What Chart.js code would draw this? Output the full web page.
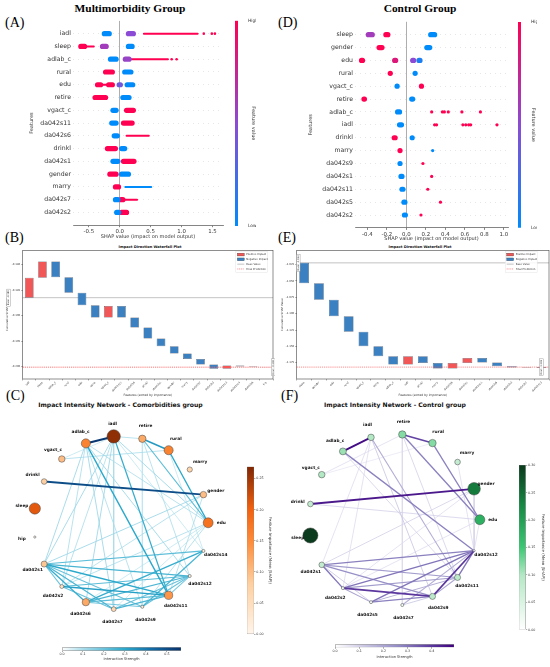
<!DOCTYPE html>
<html lang="en">
<head>
<meta charset="UTF-8">
<title>SHAP summary, waterfall and interaction networks</title>
<script src="https://cdn.jsdelivr.net/npm/chart.js"></script>
<style>
  body { margin: 0; background: #fff; }
  #fig { position: relative; width: 550px; height: 667px; overflow: hidden; font-family: 'DejaVu Sans', sans-serif; }
  canvas { position: absolute; }
  .lbl { position: absolute; font-family: 'Liberation Serif', serif; font-size: 14px; line-height: 1; color: #000; }
  .grp { position: absolute; font-family: 'Liberation Serif', serif; font-weight: bold; font-size: 11.4px; line-height: 1; text-align: center; white-space: nowrap; }
  .ttl { position: absolute; font-weight: bold; text-align: center; white-space: nowrap; line-height: 1; color: #111; }
</style>
</head>
<body>
<div id="fig">
  <div class="grp" style="left:30px;top:3px;width:200px">Multimorbidity Group</div>
  <div class="grp" style="left:320px;top:3px;width:200px">Control Group</div>
  <div class="lbl" style="left:5px;top:16px">(A)</div>
  <div class="lbl" style="left:278px;top:16px">(D)</div>
  <div class="lbl" style="left:5px;top:231px">(B)</div>
  <div class="lbl" style="left:278px;top:231px">(E)</div>
  <div class="lbl" style="left:6px;top:389px">(C)</div>
  <div class="lbl" style="left:281px;top:389px">(F)</div>
  <div class="ttl" style="left:50px;top:245.5px;width:200px;font-size:3.6px">Impact Direction Waterfall Plot</div>
  <div class="ttl" style="left:320px;top:245.5px;width:200px;font-size:3.6px">Impact Direction Waterfall Plot</div>
  <div class="ttl" style="left:0px;top:402px;width:241px;font-size:6.1px">Impact Intensity Network - Comorbidities group</div>
  <div class="ttl" style="left:275px;top:402px;width:240px;font-size:6.1px">Impact Intensity Network - Control group</div>
</div>

<script>
// ---- (A) SHAP summary, multimorbidity group ----
const featA = ['iadl', 'sleep', 'adlab_c', 'rural', 'edu', 'retire', 'vgact_c', 'da042s11',
  'da042s6', 'drinkl', 'da042s1', 'gender', 'marry', 'da042s7', 'da042s2'];
// [feature, shap from, shap to, feature value 0..1]
const coreA = [
  ['iadl', -0.25, -0.17, 0], ['iadl', 0.14, 0.22, 0.5],
  ['sleep', -0.63, -0.57, 1], ['sleep', -0.28, -0.22, 0.6], ['sleep', 0.14, 0.20, 0],
  ['adlab_c', -0.15, -0.06, 0], ['adlab_c', 0.09, 0.15, 0.55],
  ['rural', -0.23, -0.12, 1], ['rural', 0.08, 0.18, 0],
  ['edu', -0.36, -0.31, 1], ['edu', -0.18, -0.12, 1], ['edu', -0.01, 0.01, 0.4], ['edu', 0.12, 0.21, 0],
  ['retire', -0.40, -0.23, 1], ['retire', 0.05, 0.15, 0],
  ['vgact_c', -0.11, -0.06, 0], ['vgact_c', 0.11, 0.22, 1],
  ['da042s11', -0.13, -0.06, 0], ['da042s11', 0.06, 0.20, 1],
  ['da042s6', -0.09, -0.04, 0],
  ['drinkl', -0.20, -0.07, 1], ['drinkl', 0.03, 0.08, 0],
  ['da042s1', -0.11, -0.03, 0], ['da042s1', 0.06, 0.23, 1],
  ['gender', -0.16, -0.06, 1], ['gender', 0.03, 0.14, 0],
  ['marry', -0.07, -0.02, 1],
  ['da042s7', -0.07, -0.03, 0], ['da042s7', 0.02, 0.05, 1],
  ['da042s2', -0.05, -0.02, 0], ['da042s2', 0.03, 0.11, 1]
];
const tailA = [
  ['iadl', 0.39, 1.26, 1], ['sleep', -0.56, -0.42, 1], ['adlab_c', 0.18, 0.78, 1],
  ['edu', -0.30, -0.19, 1], ['da042s6', 0.11, 0.47, 1], ['marry', 0.09, 0.51, 0],
  ['da042s7', 0.05, 0.28, 1]
];
const dotsA = [['iadl', 1.36, 1], ['iadl', 1.49, 1], ['iadl', 1.54, 1], ['adlab_c', 0.84, 1], ['adlab_c', 0.92, 1]];
const ticksA = [-0.5, 0, 0.5, 1, 1.5];

// ---- (D) SHAP summary, control group ----
const featD = ['sleep', 'gender', 'edu', 'rural', 'vgact_c', 'retire', 'adlab_c', 'iadl', 'drinkl',
  'marry', 'da042s9', 'da042s1', 'da042s11', 'da042s5', 'da042s2'];
const coreD = [
  ['sleep', -0.39, -0.35, 0.6], ['sleep', -0.21, -0.19, 1], ['sleep', 0.25, 0.29, 0],
  ['gender', -0.28, -0.25, 1], ['gender', 0.21, 0.24, 0],
  ['edu', -0.46, -0.45, 1], ['edu', -0.12, -0.11, 0.85], ['edu', 0.065, 0.075, 0.5], ['edu', 0.13, 0.14, 0.1],
  ['rural', -0.165, -0.16, 1], ['rural', 0.09, 0.095, 0],
  ['vgact_c', -0.095, -0.09, 0], ['vgact_c', 0.155, 0.16, 1],
  ['retire', -0.435, -0.43, 1], ['retire', 0.055, 0.065, 0],
  ['adlab_c', -0.09, -0.07, 0],
  ['iadl', -0.07, -0.05, 0],
  ['drinkl', -0.125, -0.115, 1], ['drinkl', 0.06, 0.065, 0],
  ['marry', -0.065, -0.055, 1],
  ['da042s9', -0.065, -0.055, 0],
  ['da042s1', -0.055, -0.045, 0],
  ['da042s11', -0.045, -0.035, 0],
  ['da042s5', -0.025, -0.015, 0],
  ['da042s2', -0.02, -0.01, 0]
];
const dotsD = [
  ['adlab_c', 0.26, 1], ['adlab_c', 0.37, 1], ['adlab_c', 0.39, 1], ['adlab_c', 0.43, 1], ['adlab_c', 0.57, 1], ['adlab_c', 0.76, 1],
  ['iadl', 0.29, 1], ['iadl', 0.31, 1], ['iadl', 0.58, 1], ['iadl', 0.61, 1], ['iadl', 0.64, 1], ['iadl', 0.66, 1], ['iadl', 0.93, 1],
  ['marry', 0.27, 0], ['da042s9', 0.17, 1], ['da042s1', 0.26, 1], ['da042s11', 0.22, 1],
  ['da042s5', 0.35, 1], ['da042s2', 0.15, 1]
];
const ticksD = [-0.4, -0.2, 0, 0.2, 0.4, 0.6, 0.8, 1.0];
const shapCbLabels = ['Low', 'High'];

// ---- (B) waterfall, multimorbidity group ----
const featB = ['iadl', 'sleep', 'adlab_c', 'rural', 'edu', 'retire', 'vgact_c', 'da042s11', 'da042s6', 'drinkl',
  'da042s1', 'gender', 'marry', 'da042s7', 'da042s2', 'da042s12', 'da042s14', 'da042s9', 'hip'];
const contribB = [0.00389, 0.00318, -0.00305, -0.00305, -0.00247, -0.00240, 0.00227, -0.00227, -0.00195, -0.00214,
  -0.00149, -0.00143, -0.00111, -0.00104, -0.00084, 0.00065, -0.00020, -0.00012, -0.00004];
const baseB = -0.18649;
const ticksB = [-0.180, -0.185, -0.190, -0.195, -0.200];

// ---- (E) waterfall, control group ----
const featE = ['sleep', 'gender', 'edu', 'rural', 'vgact_c', 'retire', 'adlab_c', 'iadl', 'drinkl', 'marry',
  'da042s9', 'da042s1', 'da042s11', 'da042s5', 'da042s2', 'da042s7', 'da042s12'];
const contribE = [-0.03094, -0.02536, -0.02536, -0.02333, -0.02232, -0.01521, -0.01269, 0.01269, -0.01015, -0.00862,
  0.00862, 0.00761, -0.00711, -0.00558, -0.00203, -0.00051, 0.00100];
const baseE = -1.0225;
const ticksE = [-1.025, -1.050, -1.075, -1.100, -1.125, -1.150, -1.175];

// ---- (C) network, comorbidities group (circular order) ----
const nodesC = ['edu', 'gender', 'marry', 'rural', 'retire', 'iadl', 'adlab_c', 'vgact_c', 'drinkl', 'sleep',
  'hip', 'da042s1', 'da042s2', 'da042s6', 'da042s7', 'da042s9', 'da042s11', 'da042s12', 'da042s14'];
const impC = [0.18, 0.10, 0.07, 0.16, 0.12, 0.26, 0.16, 0.10, 0.08, 0.21,
  0.0, 0.09, 0.04, 0.12, 0.06, 0.02, 0.14, 0.02, 0.02];
const edgesC = [
  ['iadl', 'adlab_c', 0.55], ['drinkl', 'gender', 0.50], ['retire', 'rural', 0.33], ['rural', 'edu', 0.30],
  ['retire', 'edu', 0.22], ['adlab_c', 'da042s11', 0.30], ['iadl', 'da042s11', 0.28],
  ['da042s1', 'da042s11', 0.30], ['da042s1', 'da042s12', 0.25], ['da042s1', 'da042s14', 0.22],
  ['da042s1', 'da042s6', 0.28], ['da042s1', 'da042s7', 0.25], ['da042s1', 'da042s9', 0.20], ['da042s1', 'da042s2', 0.20],
  ['da042s2', 'da042s11', 0.32], ['da042s2', 'da042s12', 0.22], ['da042s2', 'da042s7', 0.20],
  ['da042s6', 'da042s14', 0.28], ['da042s6', 'da042s12', 0.25], ['da042s6', 'da042s11', 0.22], ['da042s6', 'da042s9', 0.18],
  ['da042s7', 'da042s11', 0.25], ['da042s7', 'da042s12', 0.20], ['da042s9', 'da042s14', 0.25], ['da042s9', 'da042s12', 0.20],
  ['da042s11', 'da042s12', 0.18],
  ['vgact_c', 'rural', 0.10], ['vgact_c', 'iadl', 0.08], ['iadl', 'retire', 0.10], ['iadl', 'edu', 0.12],
  ['iadl', 'da042s1', 0.12], ['iadl', 'da042s2', 0.10], ['iadl', 'da042s6', 0.12], ['iadl', 'da042s7', 0.10],
  ['iadl', 'da042s14', 0.08], ['adlab_c', 'da042s1', 0.12], ['adlab_c', 'da042s2', 0.10], ['adlab_c', 'da042s7', 0.12],
  ['adlab_c', 'da042s9', 0.10], ['adlab_c', 'da042s12', 0.12], ['adlab_c', 'edu', 0.10], ['retire', 'da042s12', 0.10],
  ['retire', 'da042s9', 0.08], ['rural', 'da042s14', 0.08], ['gender', 'da042s1', 0.12], ['gender', 'da042s2', 0.10],
  ['gender', 'da042s11', 0.10], ['edu', 'da042s2', 0.10], ['edu', 'da042s6', 0.08], ['edu', 'da042s9', 0.10],
  ['edu', 'da042s7', 0.08]
];

// ---- (F) network, control group (circular order) ----
const nodesF = ['edu', 'gender', 'marry', 'rural', 'retire', 'iadl', 'adlab_c', 'vgact_c', 'drinkl', 'sleep',
  'da042s1', 'da042s2', 'da042s5', 'da042s7', 'da042s9', 'da042s11', 'da042s12'];
const impF = [0.18, 0.24, 0.08, 0.12, 0.12, 0.10, 0.11, 0.10, 0.08, 0.30,
  0.08, 0.02, 0.02, 0.02, 0.09, 0.09, 0.0];
const edgesF = [
  ['adlab_c', 'iadl', 0.47], ['drinkl', 'gender', 0.45], ['retire', 'rural', 0.38], ['retire', 'edu', 0.28],
  ['rural', 'edu', 0.28], ['adlab_c', 'da042s12', 0.28], ['iadl', 'da042s11', 0.18], ['iadl', 'da042s9', 0.12],
  ['da042s9', 'da042s12', 0.40], ['da042s2', 'da042s9', 0.40], ['da042s11', 'da042s12', 0.30],
  ['da042s1', 'da042s12', 0.28], ['da042s1', 'da042s11', 0.22], ['da042s1', 'da042s2', 0.30], ['da042s1', 'da042s9', 0.25],
  ['da042s1', 'da042s5', 0.12], ['da042s2', 'da042s12', 0.30], ['da042s2', 'da042s11', 0.22], ['da042s2', 'da042s5', 0.20],
  ['da042s5', 'da042s12', 0.30], ['da042s5', 'da042s11', 0.18], ['da042s5', 'da042s9', 0.28], ['da042s7', 'da042s12', 0.18],
  ['da042s7', 'da042s9', 0.12], ['da042s9', 'da042s11', 0.20],
  ['vgact_c', 'retire', 0.08], ['vgact_c', 'rural', 0.06], ['drinkl', 'edu', 0.10], ['gender', 'da042s1', 0.10],
  ['gender', 'da042s2', 0.08], ['iadl', 'da042s1', 0.08], ['iadl', 'da042s2', 0.08], ['retire', 'da042s7', 0.08],
  ['retire', 'da042s11', 0.10], ['adlab_c', 'da042s11', 0.10], ['marry', 'da042s12', 0.08], ['gender', 'da042s12', 0.10],
  ['edu', 'da042s12', 0.08], ['edu', 'da042s2', 0.08]
];

const impTicksC = [0, 0.05, 0.10, 0.15, 0.20, 0.25], impMaxC = 0.269;
const impTicksF = [0, 0.05, 0.10, 0.15, 0.20, 0.25, 0.30], impMaxF = 0.301;
const strTicksC = [0, 0.1, 0.2, 0.3, 0.4, 0.5], strMaxC = 0.567;
const strTicksF = [0, 0.1, 0.2, 0.3, 0.4], strMaxF = 0.492;

// colour maps
const shapStops = [[0, '#008bfb'], [0.5, '#8b4bd4'], [1, '#ff0052']];
const orangeStops = [[0, '#fff5eb'], [0.3, '#fdd0a2'], [0.55, '#fd8d3c'], [0.75, '#f0600f'], [1, '#7f2704']];
const greenStops = [[0, '#ffffff'], [0.33, '#b5e8c5'], [0.5, '#3cc874'], [0.75, '#178a45'], [1, '#0a3a1c']];
const blueEdgeStops = [[0, '#ffffff'], [0.18, '#a6dbea'], [0.53, '#2aa8cb'], [0.75, '#116da8'], [1, '#08306b']];
const purpleEdgeStops = [[0, '#ffffff'], [0.22, '#cfcce6'], [0.55, '#8f87c2'], [0.8, '#5c3a9f'], [1, '#3f007d']];
const POS = '#f25757', NEG = '#3b80c0';

Chart.defaults.font.family = "'DejaVu Sans', sans-serif";
Chart.defaults.color = '#333';
Chart.defaults.animation = false;

const fig = document.getElementById('fig');

function hexRgb(h) {
  return [1, 3, 5].map(i => parseInt(h.slice(i, i + 2), 16));
}

function cmap(stops, t) {
  t = Math.max(0, Math.min(1, t));
  for (let i = 1; i < stops.length; i++) {
    if (t <= stops[i][0]) {
      const f = (t - stops[i - 1][0]) / (stops[i][0] - stops[i - 1][0]);
      const a = hexRgb(stops[i - 1][1]), b = hexRgb(stops[i][1]);
      return 'rgb(' + a.map((v, k) => Math.round(v + (b[k] - v) * f)).join(',') + ')';
    }
  }
  return stops[stops.length - 1][1];
}

function makeCanvas(left, top, w, h) {
  const c = document.createElement('canvas');
  c.width = w;
  c.height = h;
  c.style.left = left + 'px';
  c.style.top = top + 'px';
  c.style.width = w + 'px';
  c.style.height = h + 'px';
  fig.appendChild(c);
  return c;
}

function gradientFill(stops, horizontal) {
  return (ctx) => {
    const a = ctx.chart.chartArea;
    if (!a) return 'rgba(0,0,0,0)';
    const g = horizontal
      ? ctx.chart.ctx.createLinearGradient(a.left, 0, a.right, 0)
      : ctx.chart.ctx.createLinearGradient(0, a.bottom, 0, a.top);
    stops.forEach(s => g.addColorStop(s[0], s[1]));
    return g;
  };
}

// beeswarm-like summary plot
function beeswarm(canvas, feats, cores, tails, dots, ticks, xr, g) {
  const idx = f => feats.indexOf(f);
  const seg = (list, w) => list.map(c => ({
    type: 'line',
    data: [{ x: c[1], y: idx(c[0]) }, { x: c[2], y: idx(c[0]) }],
    borderColor: cmap(shapStops, c[3]),
    borderWidth: w,
    borderCapStyle: 'round',
    pointRadius: 0
  }));
  const datasets = [
    {
      type: 'scatter',
      data: dots.map(d => ({ x: d[1], y: idx(d[0]) })),
      backgroundColor: dots.map(d => cmap(shapStops, d[2])),
      borderWidth: 0,
      pointRadius: g.dot
    },
    ...seg(cores, g.core),
    ...seg(tails, g.tail)
  ];
  new Chart(canvas, {
    type: 'scatter',
    data: { datasets },
    options: {
      responsive: false,
      layout: { padding: { top: g.padTop, right: g.padRight, left: 0, bottom: 0 } },
      plugins: { legend: { display: false }, tooltip: { enabled: false } },
      scales: {
        x: {
          type: 'linear', min: xr[0], max: xr[1],
          afterBuildTicks: s => { s.ticks = ticks.map(v => ({ value: v })); },
          afterFit: s => { s.height = g.xh; },
          ticks: { font: { size: 5.4 }, color: '#333', padding: 1, maxRotation: 0, callback: v => v.toFixed(1) },
          grid: {
            color: c => (c.tick && c.tick.value === 0) ? '#999' : 'rgba(0,0,0,0)',
            lineWidth: 0.8, tickColor: '#333', tickLength: 2, tickWidth: 0.6
          },
          border: { display: true, color: '#333', width: 0.6 },
          title: { display: true, text: 'SHAP value (impact on model output)', font: { size: 5 }, color: '#333', padding: { top: 0, bottom: g.xtPad } }
        },
        y: {
          type: 'linear', reverse: true, min: -1, max: feats.length,
          afterBuildTicks: s => { s.ticks = feats.map((_, i) => ({ value: i })); },
          afterFit: s => { s.width = g.yw; },
          ticks: { font: { size: 6.2 }, color: '#333', padding: 2, callback: v => feats[v] },
          grid: { color: '#cccccc', lineWidth: 0.5, drawTicks: false },
          border: { display: false, dash: [1, 4] },
          title: { display: true, text: 'Features', font: { size: 5 }, color: '#333', padding: { top: g.ytPad, bottom: 0 } }
        }
      }
    }
  });
}

function shapColorbar(canvas, g) {
  new Chart(canvas, {
    type: 'bar',
    data: { labels: [''], datasets: [{ data: [[0, 1]], backgroundColor: gradientFill(shapStops, false), barPercentage: 1, categoryPercentage: 1, borderWidth: 0 }] },
    options: {
      responsive: false,
      layout: { padding: { top: g.padTop, bottom: g.padBottom, left: 0, right: 0 } },
      plugins: { legend: { display: false }, tooltip: { enabled: false } },
      scales: {
        x: { display: false },
        y: {
          position: 'right', min: 0, max: 1,
          afterBuildTicks: s => { s.ticks = [{ value: 0 }, { value: 1 }]; },
          afterFit: s => { s.width = g.yw; },
          ticks: { font: { size: 4.4 }, color: '#333', padding: 2, callback: v => shapCbLabels[v] },
          grid: { display: false },
          border: { display: false },
          title: { display: true, text: 'Feature value', font: { size: 5 }, color: '#333', padding: { top: g.tPad, bottom: 0 } }
        }
      }
    }
  });
}

const waterfallDecor = {
  id: 'waterfallDecor',
  beforeDatasetsDraw(chart, args, o) {
    const { ctx, chartArea: a, scales: { y } } = chart;
    const yb = y.getPixelForValue(o.base);
    ctx.save();
    ctx.strokeStyle = '#9a9a9a';
    ctx.lineWidth = 0.6;
    ctx.beginPath(); ctx.moveTo(a.left, yb); ctx.lineTo(a.right, yb); ctx.stroke();
    ctx.restore();
  },
  afterDatasetsDraw(chart, args, o) {
    const { ctx, chartArea: a, scales: { y } } = chart;
    const yb = y.getPixelForValue(o.base);
    const yf = y.getPixelForValue(o.final);
    ctx.save();
    ctx.strokeStyle = 'rgba(255,90,90,0.55)';
    ctx.lineWidth = 1.3;
    ctx.setLineDash([1.2, 0.9]);
    ctx.beginPath(); ctx.moveTo(a.left, yf); ctx.lineTo(a.right, yf); ctx.stroke();
    ctx.setLineDash([]);
    ctx.strokeStyle = '#444';
    ctx.lineWidth = 0.6;
    ctx.strokeRect(a.left, a.top, a.right - a.left, a.bottom - a.top);

    // rotated value boxes
    ctx.font = "2.4px 'DejaVu Sans'";
    ctx.textAlign = 'center';
    ctx.textBaseline = 'middle';
    const box = (text, x, yy) => {
      const w = ctx.measureText(text).width + 2;
      ctx.save();
      ctx.translate(x, yy);
      ctx.rotate(-Math.PI / 2);
      ctx.fillStyle = '#fff';
      ctx.fillRect(-w / 2, -1.8, w, 3.6);
      ctx.strokeStyle = '#888';
      ctx.lineWidth = 0.4;
      ctx.strokeRect(-w / 2, -1.8, w, 3.6);
      ctx.fillStyle = '#333';
      ctx.fillText(text, 0, 0);
      ctx.restore();
    };
    box('Base: ' + o.base.toFixed(3), a.left + o.baseDx, yb);
    box('Final: ' + o.final.toFixed(3), a.right + o.finalDx, yf);

    // legend inside the plot
    const items = [
      ['Positive Impact', 'box', POS], ['Negative Impact', 'box', NEG],
      ['Base Value', 'line', '#9a9a9a'], ['Final Prediction', 'dash', 'rgba(255,90,90,0.7)']
    ];
    ctx.font = "2.6px 'DejaVu Sans'";
    ctx.textAlign = 'left';
    const x0 = a.right - o.legendRight, y0 = a.top + 4, rh = 4.8;
    const tw = Math.max(...items.map(it => ctx.measureText(it[0]).width));
    ctx.fillStyle = 'rgba(255,255,255,0.85)';
    ctx.fillRect(x0 - 1.5, y0 - 3, 10.5 + tw, rh * 4 + 1.5);
    ctx.strokeStyle = '#ddd';
    ctx.lineWidth = 0.4;
    ctx.strokeRect(x0 - 1.5, y0 - 3, 10.5 + tw, rh * 4 + 1.5);
    items.forEach((it, i) => {
      const yy = y0 + i * rh;
      if (it[1] === 'box') {
        ctx.fillStyle = it[2];
        ctx.fillRect(x0, yy - 1.4, 7, 2.8);
        ctx.strokeStyle = '#333';
        ctx.lineWidth = 0.3;
        ctx.strokeRect(x0, yy - 1.4, 7, 2.8);
      } else {
        ctx.strokeStyle = it[2];
        ctx.lineWidth = it[1] === 'dash' ? 1 : 0.6;
        ctx.setLineDash(it[1] === 'dash' ? [1, 0.8] : []);
        ctx.beginPath(); ctx.moveTo(x0, yy); ctx.lineTo(x0 + 7, yy); ctx.stroke();
        ctx.setLineDash([]);
      }
      ctx.fillStyle = '#333';
      ctx.fillText(it[0], x0 + 9, yy);
    });
    ctx.restore();
  }
};

function waterfall(canvas, feats, contrib, base, ticks, yr, g) {
  const spans = [];
  let cum = base;
  contrib.forEach(c => { spans.push([cum, cum + c]); cum += c; });
  new Chart(canvas, {
    type: 'bar',
    data: {
      labels: feats,
      datasets: [{
        data: spans,
        backgroundColor: contrib.map(c => c > 0 ? POS : NEG),
        borderColor: 'rgba(30,40,60,0.85)',
        borderWidth: 0.5,
        borderSkipped: false,
        barPercentage: 0.66,
        categoryPercentage: 1
      }]
    },
    options: {
      responsive: false,
      layout: { padding: { top: g.padTop, right: g.padRight, left: 0, bottom: 0 } },
      plugins: {
        legend: { display: false }, tooltip: { enabled: false },
        waterfallDecor: { base, final: cum, baseDx: g.baseDx, finalDx: g.finalDx, legendRight: g.legendRight }
      },
      scales: {
        x: {
          afterFit: s => { s.height = 21; },
          ticks: { font: { size: 2.6 }, color: '#333', padding: 0.5, minRotation: 45, maxRotation: 45, autoSkip: false },
          grid: { drawOnChartArea: false, tickLength: 1.5, tickColor: '#333', tickWidth: 0.4 },
          border: { display: false },
          title: { display: true, text: 'Features (sorted by importance)', font: { size: 3 }, color: '#333', padding: { top: 0, bottom: 2.5 } }
        },
        y: {
          min: yr[0], max: yr[1],
          afterBuildTicks: s => { s.ticks = ticks.map(v => ({ value: v })); },
          afterFit: s => { s.width = g.yw; },
          ticks: { font: { size: 2.6 }, color: '#333', padding: 1, callback: v => v.toFixed(3) },
          grid: { drawOnChartArea: false, tickLength: 1.5, tickColor: '#333', tickWidth: 0.4 },
          border: { display: false },
          title: { display: true, text: 'Cumulative SHAP Value', font: { size: 2.8 }, color: '#333', padding: { top: g.ytPad, bottom: 0 } }
        }
      }
    },
    plugins: [waterfallDecor]
  });
}

const nodeLabels = {
  id: 'nodeLabels',
  afterDatasetsDraw(chart, args, o) {
    const { ctx, scales: { x, y } } = chart;
    ctx.save();
    ctx.font = "bold 4.3px 'DejaVu Sans'";
    ctx.fillStyle = '#111';
    ctx.textAlign = 'center';
    ctx.textBaseline = 'middle';
    o.names.forEach((nm, i) => {
      const t = 2 * Math.PI * i / o.names.length;
      ctx.fillText(nm, x.getPixelForValue(1.15 * Math.cos(t)), y.getPixelForValue(1.15 * Math.sin(t)));
    });
    ctx.restore();
  }
};

function network(canvas, nodes, imp, edges, impMax, strMax, nodeStops, edgeStops, xr, yr) {
  const n = nodes.length;
  // circular layout: node i at angle 2*pi*i/n
  const pos = nodes.map((_, i) => ({ x: Math.cos(2 * Math.PI * i / n), y: Math.sin(2 * Math.PI * i / n) }));
  const at = nm => Object.assign({}, pos[nodes.indexOf(nm)]);
  const sorted = edges.slice().sort((p, q) => q[2] - p[2]);
  const edgeSets = sorted.map(e => ({
    type: 'line',
    data: [at(e[0]), at(e[1])],
    borderColor: cmap(edgeStops, e[2] / strMax),
    borderWidth: 0.5 + 2.9 * e[2],
    pointRadius: 0
  }));
  const nodeSet = {
    type: 'scatter',
    data: pos.map(p => Object.assign({}, p)),
    pointRadius: imp.map(v => 1.1 + 21.5 * v),
    backgroundColor: imp.map(v => cmap(nodeStops, v / impMax)),
    borderColor: '#444',
    borderWidth: 0.5
  };
  new Chart(canvas, {
    type: 'scatter',
    data: { datasets: [nodeSet, ...edgeSets] },
    options: {
      responsive: false,
      layout: { padding: 0 },
      plugins: { legend: { display: false }, tooltip: { enabled: false }, nodeLabels: { names: nodes } },
      scales: {
        x: { type: 'linear', min: xr[0], max: xr[1], display: false },
        y: { type: 'linear', min: yr[0], max: yr[1], display: false }
      }
    },
    plugins: [nodeLabels]
  });
}

function vColorbar(canvas, stops, max, ticks, title, g) {
  new Chart(canvas, {
    type: 'bar',
    data: { labels: [''], datasets: [{ data: [[0, max]], backgroundColor: gradientFill(stops, false), borderColor: '#777', borderWidth: 0.5, borderSkipped: false, barPercentage: 1, categoryPercentage: 1 }] },
    options: {
      responsive: false,
      layout: { padding: { top: g.padTop, bottom: g.padBottom, left: 0, right: 0 } },
      plugins: { legend: { display: false }, tooltip: { enabled: false } },
      scales: {
        x: { display: false },
        y: {
          position: 'right', min: 0, max,
          afterBuildTicks: s => { s.ticks = ticks.map(v => ({ value: v })); },
          afterFit: s => { s.width = g.yw; },
          ticks: { font: { size: 3.3 }, color: '#333', padding: 0.8, callback: v => v.toFixed(2) },
          grid: { drawOnChartArea: false, tickLength: 1.5, tickColor: '#333', tickWidth: 0.4 },
          border: { display: false },
          title: { display: true, text: title, font: { size: 3.9 }, color: '#333', padding: { top: g.tPad, bottom: 0 } }
        }
      }
    }
  });
}

function hColorbar(canvas, stops, max, ticks, g) {
  new Chart(canvas, {
    type: 'bar',
    data: { labels: [''], datasets: [{ data: [[0, max]], backgroundColor: gradientFill(stops, true), borderColor: '#777', borderWidth: 0.5, borderSkipped: false, barPercentage: 1, categoryPercentage: 1 }] },
    options: {
      indexAxis: 'y',
      responsive: false,
      layout: { padding: { top: g.padTop, bottom: 0, left: 4, right: 4 } },
      plugins: { legend: { display: false }, tooltip: { enabled: false } },
      scales: {
        y: { display: false },
        x: {
          min: 0, max,
          afterBuildTicks: s => { s.ticks = ticks.map(v => ({ value: v })); },
          afterFit: s => { s.height = g.xh; },
          ticks: { font: { size: 3.3 }, color: '#333', padding: 0, maxRotation: 0, callback: v => v.toFixed(1) },
          grid: { drawOnChartArea: false, tickLength: 1.5, tickColor: '#333', tickWidth: 0.4 },
          border: { display: false },
          title: { display: true, text: 'Interaction Strength', font: { size: 3.6 }, color: '#333', padding: { top: 0, bottom: g.tPad } }
        }
      }
    }
  });
}

// (A) and (D)
beeswarm(makeCanvas(28, 15, 199, 225), featA, coreA, tailA, dotsA, ticksA, [-0.757, 1.671],
  { padTop: 5.9, padRight: 1, yw: 45, xh: 14.8, core: 5.2, tail: 2, dot: 1.3, xtPad: 0, ytPad: 1 });
shapColorbar(makeCanvas(235, 15, 21, 216), { padTop: 5.7, padBottom: 5, yw: 18, tPad: 0 });
beeswarm(makeCanvas(306, 15, 206, 228), featD, coreD, [], dotsD, ticksD, [-0.527, 1.043],
  { padTop: 6.8, padRight: 0, yw: 49, xh: 15.1, core: 5.2, tail: 2, dot: 1.6, xtPad: 1.7, ytPad: 2 });
shapColorbar(makeCanvas(518, 16, 19, 217), { padTop: 6, padBottom: 5.3, yw: 16, tPad: 1 });

// (B) and (E)
waterfall(makeCanvas(4, 248, 271, 152), featB, contribB, baseB, ticksB, [-0.2024, -0.17727],
  { padTop: 2, padRight: 2, yw: 18.7, ytPad: 1.6, baseDx: -14.1, finalDx: 0.3, legendRight: 35.7 });
waterfall(makeCanvas(279, 248, 271, 152), featE, contribE, baseE, ticksE, [-1.19977, -1.00372],
  { padTop: 2, padRight: 1, yw: 17.7, ytPad: 1.3, baseDx: 1.6, finalDx: -7.5, legendRight: 42.3 });

// (C) and (F)
network(makeCanvas(0, 403, 241, 240), nodesC, impC, edgesC, impMaxC, strMaxC, orangeStops, blueEdgeStops,
  [-1.303, 1.294], [-1.304, 1.299]);
vColorbar(makeCanvas(247, 462, 26, 177), orangeStops, impMaxC, impTicksC, 'Feature Importance (Mean |SHAP|)',
  { padTop: 4.7, padBottom: 4.7, yw: 19, tPad: 0.6 });
hColorbar(makeCanvas(58, 646, 127, 20), blueEdgeStops, strMaxC, strTicksC, { padTop: 1.3, xh: 15.3, tPad: 4.8 });

network(makeCanvas(275, 400, 240, 240), nodesF, impF, edgesF, impMaxF, strMaxF, greenStops, purpleEdgeStops,
  [-1.303, 1.317], [-1.310, 1.304]);
vColorbar(makeCanvas(519, 460, 26, 175), greenStops, impMaxF, impTicksF, 'Feature Importance (Mean |SHAP|)',
  { padTop: 5, padBottom: 5.3, yw: 19.3, tPad: 0 });
hColorbar(makeCanvas(331, 643, 127, 20), purpleEdgeStops, strMaxF, strTicksF, { padTop: 1.3, xh: 15.7, tPad: 4.1 });
</script>
</body>
</html>
